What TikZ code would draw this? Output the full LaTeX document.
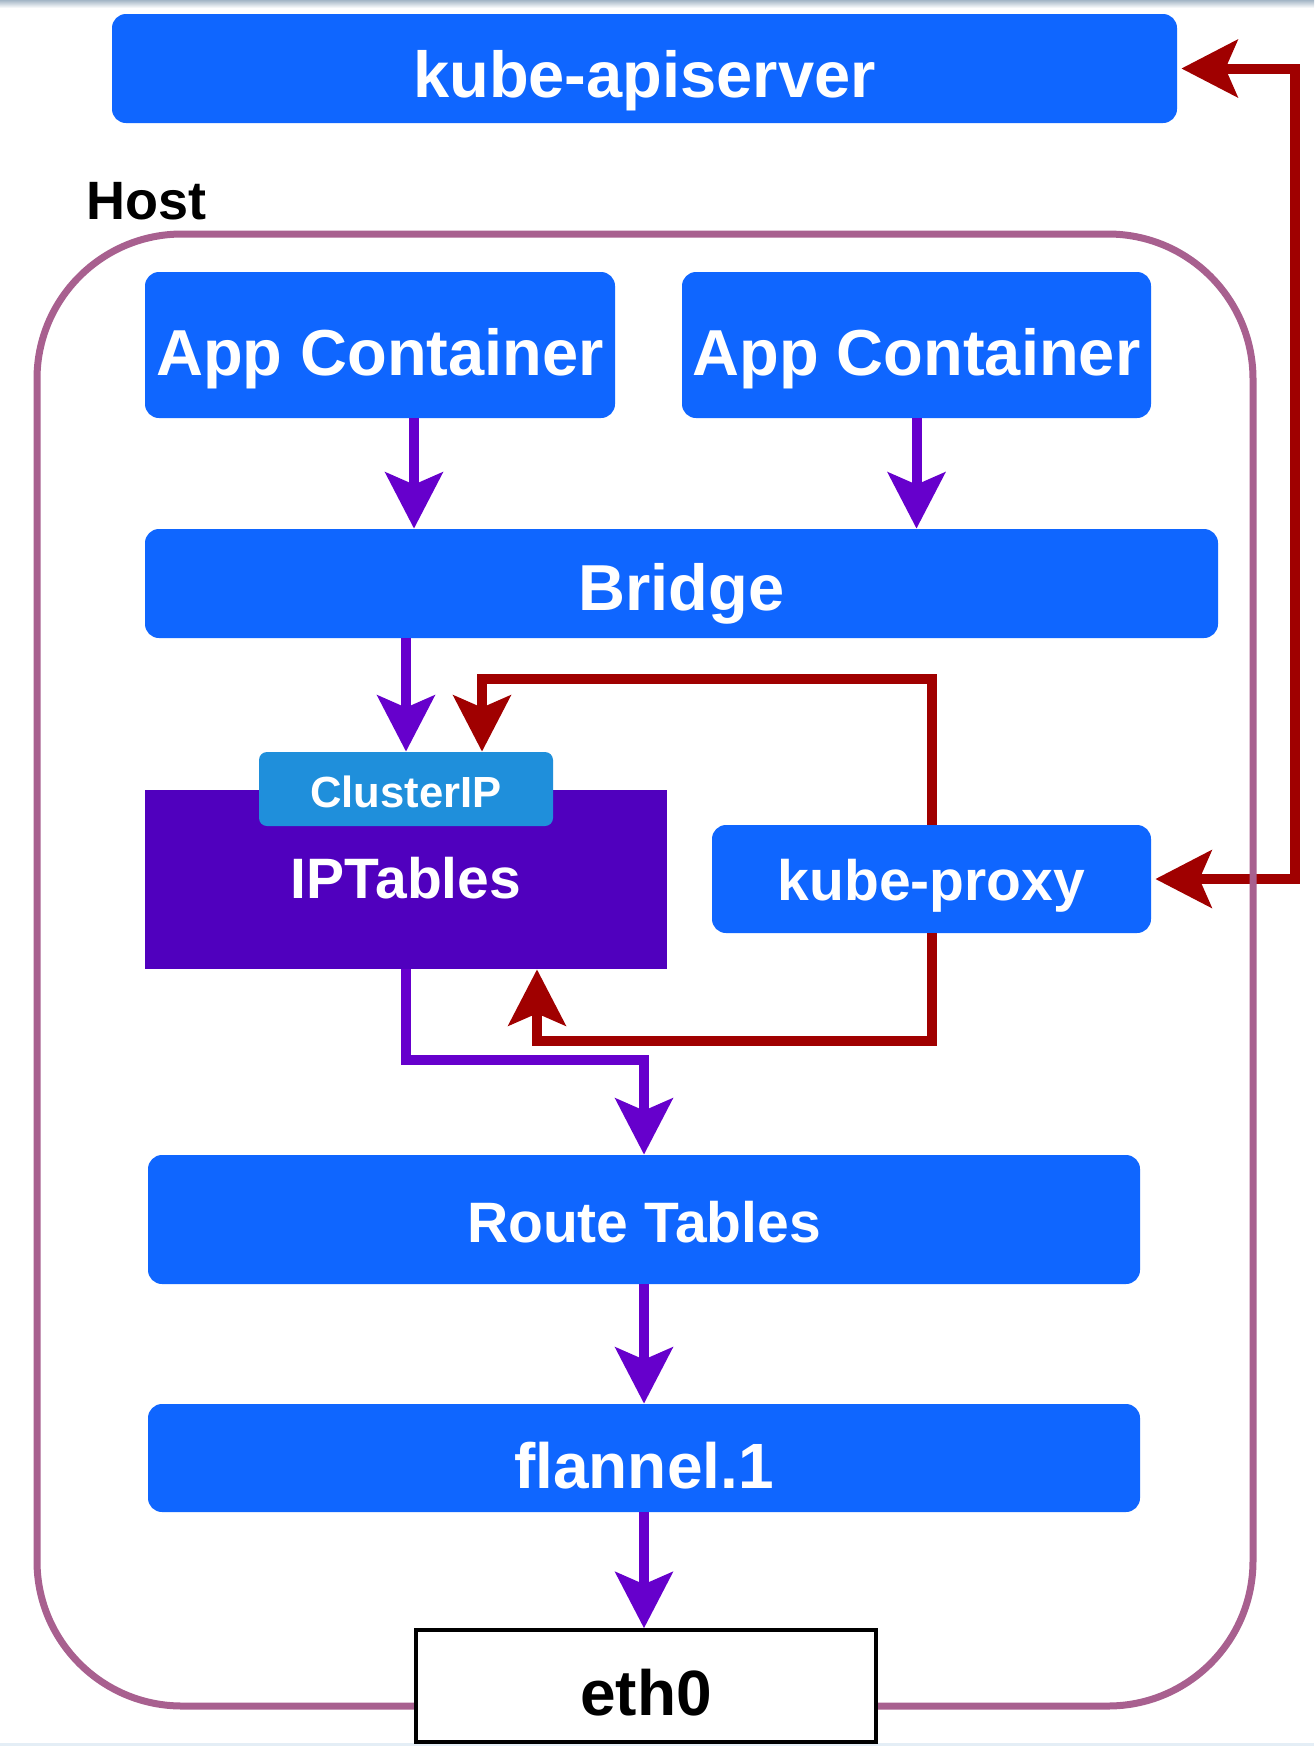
\documentclass[tikz,border=0pt]{standalone}
\usepackage{fontspec}
\setmainfont{Liberation Sans}
\usetikzlibrary{arrows.meta}
\definecolor{boxblue}{HTML}{0F66FF}
\definecolor{iptpurple}{HTML}{5000BE}
\definecolor{cipblue}{HTML}{1F8FDB}
\definecolor{flowpurple}{HTML}{6600CC}
\definecolor{flowred}{HTML}{A00000}
\definecolor{hostpink}{HTML}{A8608F}
\definecolor{topband}{HTML}{A4B6C6}
\definecolor{botband}{HTML}{E4EEF6}
\tikzset{headtip/.tip={Stealth[length=28pt, width=28.5pt, inset=6pt]}}
\begin{document}
\begin{tikzpicture}[x=0.5pt,y=-0.5pt,
  bluebox/.style={fill=boxblue, rounded corners=7pt, inner sep=0pt, text=white, text depth=0pt,
    font=\bfseries\fontsize{32.5pt}{36pt}\selectfont},
  smalltext/.style={font=\bfseries\fontsize{28.5pt}{32pt}\selectfont},
  parrow/.style={draw=flowpurple, line width=5pt, -{headtip}},
  rarrow/.style={draw=flowred, line width=5pt, -{headtip}},
  rarrowboth/.style={draw=flowred, line width=5pt, {headtip}-{headtip}},
]
\useasboundingbox (0,0) rectangle (1314,1746);
\fill[white] (0,0) rectangle (1314,1746);
\shade[top color=topband, bottom color=white] (0,0) rectangle (1314,8);
\fill[botband] (0,1743) rectangle (1314,1746);

% nodes
\node[bluebox, text height=28.5pt, minimum width=532.5pt, minimum height=54.5pt] (api) at (644.5,68.5) {kube-apiserver};
\node[anchor=base west, inner sep=0pt, font=\bfseries\fontsize{27pt}{30pt}\selectfont] (hostlabel) at (86,219) {Host};
\node[bluebox, text height=30pt, minimum width=235pt, minimum height=73pt] (app1) at (380,345) {App Container};
\node[bluebox, text height=30pt, minimum width=234.5pt, minimum height=73pt] (app2) at (916.5,345) {App Container};
\node[bluebox, text height=26.5pt, minimum width=536.5pt, minimum height=54.5pt] (bridge) at (681.5,583.5) {Bridge};
\node[fill=iptpurple, inner sep=0pt, minimum width=261pt, minimum height=89.5pt] (ipt) at (406,879.5) {};
\node[anchor=base, text=white, smalltext, inner sep=0pt] (ipttext) at (406,898) {IPTables};
\node[fill=cipblue, rounded corners=4pt, inner sep=0pt, minimum width=147pt, minimum height=37pt, text=white,
  text height=18pt, text depth=0pt,
  font=\bfseries\fontsize{21.8pt}{24pt}\selectfont] (cip) at (406,789) {ClusterIP};
\node[bluebox, smalltext, text height=21pt, minimum width=219.5pt, minimum height=54pt] (kp) at (931.5,879) {kube-proxy};
\node[bluebox, smalltext, text height=22.5pt, minimum width=496pt, minimum height=64.5pt] (rt) at (644,1219.5) {Route Tables};
\node[bluebox, text height=30pt, font=\bfseries\fontsize{32pt}{36pt}\selectfont, minimum width=496pt, minimum height=54pt] (fl) at (644,1458) {flannel.1};

% connectors
\draw[parrow] ([xshift=17pt]app1.south) -- ([xshift=17pt]app1.south |- bridge.north);
\draw[parrow] (app2.south) -- (app2.south |- bridge.north);
\draw[parrow] (bridge.south -| cip.north) -- (cip.north);
\draw[rarrow] (kp.north) -- (kp.north |- 0,679) -| ([xshift=38pt]cip.north);
\draw[rarrow] (kp.south) -- (kp.south |- 0,1041) -| ([xshift=65.5pt]ipt.south);
\draw[parrow] (ipt.south) -- (ipt.south |- 0,1060) -| (rt.north);
\draw[parrow] (rt.south) -- (fl.north);
\draw[rarrowboth] ([xshift=2pt]api.east) -- ([xshift=2pt]api.east -| 1291,0) |- ([xshift=2pt]kp.east);

% host container
\draw[hostpink, line width=3.5pt, rounded corners=72.5pt] (37,234) rectangle (1253,1706);

\node[draw=black, fill=white, line width=1.75pt, inner sep=0pt, minimum width=230pt, minimum height=56pt,
  text height=29pt, text depth=0pt,
  font=\bfseries\fontsize{32pt}{36pt}\selectfont] (eth0) at (646,1686) {eth0};
\draw[parrow] (fl.south) -- (fl.south |- eth0.north);
\end{tikzpicture}
\end{document}
